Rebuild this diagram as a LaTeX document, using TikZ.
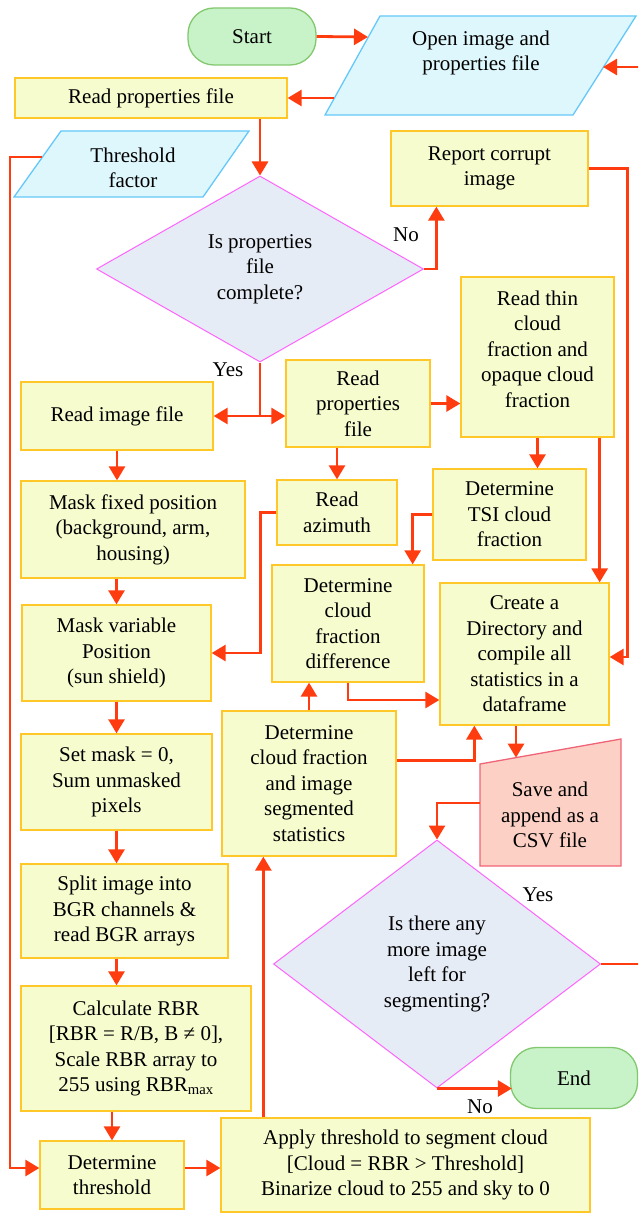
\documentclass[tikz,border=0pt]{standalone}
\usepackage{fontspec}
\setmainfont{Liberation Serif}
\usetikzlibrary{arrows.meta,shapes.geometric}
\definecolor{procf}{RGB}{246,252,206}
\definecolor{procd}{RGB}{255,200,40}
\definecolor{termf}{RGB}{200,242,200}
\definecolor{termd}{RGB}{130,200,110}
\definecolor{iof}{RGB}{222,247,252}
\definecolor{iod}{RGB}{100,200,250}
\definecolor{decf}{RGB}{230,236,246}
\definecolor{decd}{RGB}{255,100,255}
\definecolor{savef}{RGB}{252,208,196}
\definecolor{saved}{RGB}{240,100,120}
\definecolor{arrowc}{RGB}{255,60,15}
\begin{document}
\begin{tikzpicture}[x=1pt,y=-1pt,
  base/.style={font=\fontsize{21}{25.5}\selectfont, align=center, inner sep=0pt, text=black},
  wh/.style 2 args={minimum width=#1pt, minimum height=#2pt},
  proc/.style={base, rectangle, draw=procd, fill=procf, line width=1.3pt},
  term/.style={base, rectangle, rounded corners=26pt, draw=termd, fill=termf, line width=1.3pt},
  dec/.style={base, diamond, draw=decd, fill=decf, line width=1pt},
  ioshape/.style={draw=iod, fill=iof, line width=1.3pt},
  saveshape/.style={draw=saved, fill=savef, line width=1.3pt},
  txt/.style={base},
  lin/.style={draw=arrowc, line width=2.8pt},
  arr/.style={lin, -{Triangle[length=14pt,width=16pt]}}]
\useasboundingbox (0,0) rectangle (638,1214);
\clip (0,0) rectangle (638,1214);

% terminals
\node[term, wh={128}{57}] (start) at (252,36.5) {Start};
\node[term, wh={127}{61}] (end) at (574,1078) {End};

% input/output parallelograms
\draw[ioshape] (380,16) -- (636,16) -- (573,115) -- (325,115) -- cycle;
\node[txt] (opentxt) at (481,53) {Open image and\\properties file};
\coordinate (openL) at (368,37);
\coordinate (openLo) at (334,98);
\coordinate (openR) at (603,67);

\draw[ioshape] (61,131) -- (249,131) -- (203,197) -- (14,197) -- cycle;
\node[txt] (thftxt) at (133,168) {Threshold\\factor};
\coordinate (thfL) at (42,157);

% save (manual input shape)
\draw[saveshape] (480,764) -- (621,739) -- (621,866) -- (480,866) -- cycle;
\node[txt] (savetxt) at (550,815) {Save and\\append as a\\CSV file};
\coordinate (saveT) at (516,757.6);
\coordinate (saveL) at (480,803);

% decisions
\node[dec, wh={327}{186}] (d1) at (260,269) {Is properties\\file\\complete?};
\node[dec, wh={327}{248}] (d2) at (437,964) {Is there any\\more image\\left for\\segmenting?};

% process boxes
\node[proc, wh={272}{40}] (rpf1) at (151,98) {Read properties file};
\node[proc, wh={197}{75}] (report) at (489.5,168.5) {Report corrupt\\image};
\node[proc, wh={192}{68}] (rimg) at (117,416) {Read image file};
\node[proc, wh={144}{87}] (rprop) at (358,403.5) {Read\\properties\\file};
\node[proc, wh={153}{160}] (rthin) at (537.5,357) {};
\node[txt] (rthintxt) at (537.5,349) {Read thin\\cloud\\fraction and\\opaque cloud\\fraction};
\node[proc, wh={224}{97}] (mfix) at (133,529.5) {Mask fixed position\\(background, arm,\\housing)};
\node[proc, wh={120}{65}] (razi) at (337,512.5) {Read\\azimuth};
\node[proc, wh={153}{91}] (tsi) at (509.5,514.5) {Determine\\TSI cloud\\fraction};
\node[proc, wh={189}{96}] (mvar) at (116.5,653) {Mask variable\\Position\\(sun shield)};
\node[proc, wh={152}{117}] (cfd) at (348,623.5) {Determine\\cloud\\fraction\\difference};
\node[proc, wh={169}{142}] (cdir) at (524.5,654) {Create a\\Directory and\\compile all\\statistics in a\\dataframe};
\node[proc, wh={174}{145}] (dseg) at (309,783.5) {Determine\\cloud fraction\\and image\\segmented\\statistics};
\node[proc, wh={191}{96}] (setm) at (116.5,782) {Set mask = 0,\\Sum unmasked\\pixels};
\node[proc, wh={207}{94}] (split) at (124.5,911) {Split image into\\BGR channels \&\\read BGR arrays};
\node[proc, wh={230}{125}] (calc) at (136,1048.5) {Calculate RBR\\{[}RBR = R/B, B ≠ 0{]},\\Scale RBR array to\\255 using RBR\textsubscript{max}};
\node[proc, wh={144}{68}] (dthr) at (112,1175) {Determine\\threshold};
\node[proc, wh={369}{94}] (apply) at (405.5,1165) {Apply threshold to segment cloud\\{[}Cloud = RBR > Threshold{]}\\Binarize cloud to 255 and sky to 0};

% branch labels
\node[txt] (lno1) at (406,235) {No};
\node[txt] (lyes1) at (228,370) {Yes};
\node[txt] (lyes2) at (538,895) {Yes};
\node[txt] (lno2) at (480,1107) {No};

% helper points on box edges
\coordinate (repb) at ([xshift=46pt]report.south west);
\coordinate (yes) at (d1.south |- rimg.east);
\coordinate (rthinb) at ([xshift=-15pt]rthin.south east);
\coordinate (cfdin) at ([xshift=-12pt]cfd.north east);
\coordinate (cdirl) at ([yshift=-46pt]cdir.west);
\coordinate (cdirr) at ([yshift=-3pt]cdir.east);
\coordinate (dsegr) at ([yshift=23pt]dseg.east);
\coordinate (cdirbl) at ([xshift=35pt]cdir.south west);
\coordinate (cdirb) at ([xshift=-8.5pt]cdir.south);
\coordinate (dthrl) at ([yshift=7pt]dthr.west);
\coordinate (dthrr) at ([yshift=7pt]dthr.east);
\coordinate (aptop) at ([xshift=43pt]apply.north west);
\coordinate (endl) at ([xshift=2pt]d2.south -| end.west);

% connectors
\draw[arr] (start.east) -- (openL);
\draw[arr] (openLo) -- (rpf1.east);
\draw[arr] (rpf1.south -| d1.north) -- (d1.north);
\draw[arr] (d1.east) -| (repb);
\draw[arr] (report.east) -- ++(39,0) |- (cdirr);
\draw[lin] (d1.south) -- (yes);
\draw[arr] (yes) -- (rimg.east);
\draw[arr] (yes) -- (yes -| rprop.west);
\draw[arr] (rprop.east) -- (rprop.east -| rthin.west);
\draw[arr] (rthin.south) -- (rthin.south |- tsi.north);
\draw[arr] (rthinb) -- (rthinb |- cdir.north);
\draw[arr] (rimg.south) -- (rimg.south |- mfix.north);
\draw[arr] (razi.north |- rprop.south) -- (razi.north);
\draw[arr] (razi.west) -- ++(-16,0) |- (mvar.east);
\draw[arr] (mvar.north |- mfix.south) -- (mvar.north);
\draw[arr] (tsi.west) -| (cfdin);
\draw[arr] (cfd.south) |- (cdirl);
\draw[arr] (dseg.north) -- (dseg.north |- cfd.south);
\draw[arr] (dsegr) -| (cdirbl);
\draw[arr] (cdirb) -- (saveT);
\draw[arr] (saveL) -| (d2.north);
\draw[arr] (d2.east) -- ++(50,0) |- (openR);
\draw[arr] (d2.south) -- (endl);
\draw[arr] (mvar.south) -- (mvar.south |- setm.north);
\draw[arr] (setm.south) -- (setm.south |- split.north);
\draw[arr] (setm.south |- split.south) -- (setm.south |- calc.north);
\draw[arr] (dthr.north |- calc.south) -- (dthr.north);
\draw[arr] (thfL) -- ++(-32,0) |- (dthrl);
\draw[arr] (dthrr) -- (dthrr -| apply.west);
\draw[arr] (aptop) -- (aptop |- dseg.south);
\end{tikzpicture}
\end{document}
